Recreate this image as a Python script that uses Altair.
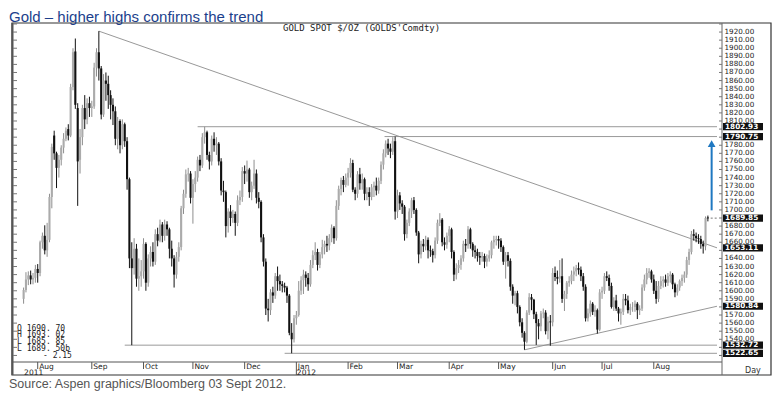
import altair as alt
import pandas as pd

start_date = "2011-07-22"
end_date = "2012-09-03"

opens = [
    1590, 1601, 1614, 1619, 1614, 1616,
    1627, 1622, 1660, 1668, 1650, 1663, 1716, 1792, 1770, 1752, 1762, 1777, 1788, 1800, 1792, 1852, 1896, 1826, 1762, 1790, 1826, 1812, 1832,
    1826, 1828, 1876, 1895, 1875, 1818, 1860, 1856, 1842, 1830, 1822, 1788, 1810, 1780, 1806, 1785, 1738, 1640, 1628, 1652, 1615, 1618,
    1624, 1658, 1610, 1640, 1648, 1636, 1670, 1662, 1682, 1668, 1682, 1676, 1652, 1640, 1620, 1642, 1654, 1702, 1720, 1744, 1745,
    1715, 1732, 1740, 1762, 1755, 1790, 1796, 1768, 1760, 1788, 1780, 1782, 1760, 1724, 1722, 1680, 1698, 1690, 1695, 1684, 1712, 1716,
    1748, 1745, 1750, 1722, 1730, 1745, 1715, 1710, 1666, 1636, 1578, 1576, 1598, 1594, 1618, 1612, 1608, 1606, 1604, 1594, 1548, 1540,
    1566, 1570, 1600, 1613, 1620, 1616, 1608, 1632, 1644, 1648, 1632, 1645, 1654, 1658, 1656, 1665, 1678, 1665, 1705, 1726, 1737, 1731,
    1740, 1746, 1758, 1725, 1720, 1744, 1733, 1738, 1720, 1722, 1716, 1728, 1730, 1724, 1736, 1756, 1770, 1782, 1776, 1772, 1785,
    1698, 1718, 1708, 1704, 1670, 1684, 1698, 1712, 1700, 1672, 1645, 1658, 1655, 1663, 1650, 1649, 1644, 1662, 1684, 1688, 1660, 1657,
    1668, 1676, 1648, 1620, 1628, 1632, 1640, 1658, 1656, 1676, 1658, 1650, 1648, 1643, 1641, 1643, 1636, 1640, 1644, 1660, 1663,
    1664, 1662, 1654, 1636, 1644, 1637, 1605, 1594, 1597, 1580, 1561, 1548, 1537, 1573, 1592, 1589, 1571, 1560, 1556, 1572, 1573, 1550, 1562,
    1561, 1622, 1617, 1615, 1618, 1590, 1596, 1610, 1612, 1620, 1624, 1628, 1626, 1618, 1605, 1566, 1572, 1584, 1574, 1576, 1552,
    1598, 1600, 1618, 1616, 1606, 1580, 1588, 1578, 1572, 1574, 1590, 1588, 1576, 1580, 1580, 1584, 1576, 1578, 1604, 1614, 1622, 1624,
    1614, 1600, 1590, 1606, 1612, 1614, 1610, 1618, 1620, 1608, 1598, 1604, 1612, 1616, 1620, 1638, 1648, 1670, 1668, 1665, 1664, 1658, 1655,
    1690.70,
]
highs = [
    1604, 1623, 1624, 1625, 1622, 1632,
    1633, 1662, 1672, 1681, 1684, 1720, 1782, 1798, 1772, 1768, 1780, 1795, 1802, 1806, 1856, 1900, 1912, 1832, 1800, 1830, 1842, 1838, 1840,
    1835, 1882, 1900, 1921.15, 1878, 1868, 1870, 1866, 1848, 1838, 1828, 1815, 1812, 1812, 1808, 1790, 1740, 1660, 1665, 1658, 1640, 1638,
    1665, 1660, 1645, 1655, 1660, 1676, 1678, 1688, 1685, 1688, 1686, 1678, 1662, 1644, 1648, 1660, 1705, 1725, 1750, 1752, 1748,
    1738, 1748, 1766, 1768, 1795, 1802.93, 1798, 1772, 1792, 1796, 1790, 1784, 1764, 1736, 1724, 1702, 1706, 1700, 1698, 1718, 1724, 1753,
    1755, 1761, 1752, 1735, 1762, 1750, 1722, 1712, 1670, 1640, 1590, 1602, 1605, 1622, 1630, 1620, 1612, 1610, 1606, 1596, 1560, 1570,
    1575, 1612, 1618, 1626, 1624, 1622, 1638, 1650, 1660, 1652, 1648, 1663, 1662, 1668, 1670, 1682, 1680, 1712, 1730, 1740, 1742, 1745,
    1752, 1764, 1762, 1728, 1748, 1752, 1745, 1740, 1728, 1728, 1732, 1735, 1740, 1740, 1760, 1775, 1786, 1788, 1782, 1790, 1790.75,
    1725, 1722, 1712, 1706, 1688, 1702, 1715, 1716, 1702, 1674, 1662, 1664, 1668, 1666, 1656, 1652, 1666, 1688, 1696, 1690, 1666, 1672,
    1680, 1678, 1650, 1634, 1638, 1644, 1662, 1664, 1680, 1678, 1660, 1656, 1652, 1648, 1648, 1646, 1645, 1650, 1662, 1668, 1668,
    1668, 1665, 1656, 1648, 1648, 1640, 1608, 1600, 1600, 1582, 1566, 1550, 1576, 1597, 1596, 1590, 1574, 1565, 1575, 1578, 1576, 1568, 1570,
    1628, 1630, 1625, 1638, 1640, 1600, 1612, 1618, 1625, 1630, 1632, 1635, 1630, 1622, 1608, 1578, 1588, 1586, 1582, 1578, 1602,
    1605, 1622, 1624, 1620, 1610, 1592, 1595, 1580, 1578, 1596, 1596, 1594, 1584, 1586, 1588, 1586, 1582, 1608, 1620, 1628, 1628, 1626,
    1620, 1612, 1612, 1618, 1618, 1620, 1622, 1624, 1622, 1610, 1608, 1614, 1620, 1624, 1642, 1652, 1674, 1676, 1672, 1670, 1668, 1662, 1692,
    1693.02,
]
lows = [
    1584, 1598, 1607, 1608, 1608, 1610,
    1610, 1618, 1652, 1645, 1642, 1660, 1702, 1762, 1727, 1740, 1755, 1770, 1785, 1786, 1790, 1848, 1825, 1705, 1745, 1780, 1800, 1806, 1815,
    1815, 1825, 1865, 1860, 1812, 1815, 1835, 1825, 1812, 1805, 1780, 1775, 1770, 1775, 1778, 1725, 1628, 1532.72, 1620, 1605, 1600, 1605,
    1615, 1600, 1605, 1630, 1630, 1632, 1655, 1660, 1660, 1662, 1668, 1640, 1630, 1604, 1615, 1636, 1650, 1695, 1715, 1735, 1708,
    1683, 1722, 1735, 1748, 1752, 1782, 1762, 1750, 1755, 1772, 1768, 1755, 1718, 1710, 1666, 1672, 1680, 1684, 1668, 1680, 1706, 1710,
    1732, 1735, 1715, 1712, 1726, 1708, 1702, 1660, 1630, 1570, 1562, 1570, 1585, 1590, 1600, 1600, 1598, 1598, 1585, 1545, 1522.65, 1536,
    1558, 1568, 1595, 1596, 1605, 1600, 1605, 1628, 1638, 1625, 1628, 1640, 1645, 1648, 1650, 1660, 1658, 1662, 1700, 1718, 1722, 1728,
    1730, 1740, 1722, 1712, 1715, 1725, 1725, 1712, 1712, 1705, 1712, 1716, 1718, 1720, 1732, 1750, 1765, 1768, 1764, 1768, 1688,
    1690, 1700, 1695, 1662, 1665, 1680, 1690, 1695, 1668, 1634, 1640, 1648, 1650, 1640, 1642, 1635, 1640, 1658, 1680, 1655, 1650, 1652,
    1660, 1640, 1612, 1614, 1622, 1626, 1636, 1648, 1652, 1652, 1642, 1640, 1636, 1632, 1636, 1628, 1630, 1636, 1640, 1652, 1656,
    1652, 1648, 1632, 1615, 1630, 1600, 1584, 1582, 1572, 1556, 1542, 1527, 1535, 1570, 1576, 1565, 1533, 1540, 1550, 1566, 1546, 1540, 1532,
    1556, 1612, 1608, 1610, 1585, 1575, 1590, 1605, 1608, 1612, 1618, 1620, 1612, 1600, 1562, 1562, 1568, 1570, 1568, 1547, 1550,
    1590, 1596, 1612, 1600, 1578, 1575, 1575, 1562, 1558, 1570, 1582, 1572, 1570, 1574, 1574, 1565, 1570, 1575, 1600, 1608, 1616, 1610,
    1596, 1584, 1586, 1602, 1604, 1605, 1606, 1610, 1602, 1592, 1594, 1600, 1606, 1610, 1616, 1632, 1645, 1662, 1660, 1658, 1652, 1646, 1650,
    1685.85,
]
closes = [
    1601, 1614, 1619, 1614, 1616, 1627,
    1622, 1660, 1668, 1650, 1663, 1716, 1778, 1770, 1752, 1762, 1777, 1788, 1798, 1792, 1852, 1895, 1830, 1760, 1790, 1826, 1812, 1832, 1826,
    1828, 1876, 1895, 1875, 1818, 1860, 1856, 1842, 1830, 1822, 1788, 1810, 1780, 1806, 1785, 1738, 1640, 1628, 1652, 1615, 1618, 1624,
    1658, 1610, 1640, 1648, 1636, 1670, 1662, 1682, 1668, 1682, 1676, 1652, 1640, 1620, 1642, 1654, 1702, 1720, 1744, 1745, 1715,
    1732, 1740, 1762, 1755, 1790, 1796, 1768, 1760, 1788, 1780, 1782, 1760, 1724, 1722, 1680, 1698, 1690, 1695, 1684, 1712, 1716, 1748,
    1745, 1750, 1722, 1730, 1745, 1715, 1710, 1666, 1636, 1578, 1576, 1598, 1594, 1618, 1612, 1608, 1606, 1604, 1594, 1548, 1540, 1566,
    1570, 1600, 1613, 1620, 1616, 1608, 1632, 1644, 1648, 1632, 1645, 1654, 1658, 1656, 1665, 1678, 1665, 1705, 1726, 1737, 1731, 1740,
    1746, 1758, 1725, 1720, 1744, 1733, 1738, 1720, 1722, 1716, 1728, 1730, 1724, 1736, 1756, 1770, 1782, 1776, 1772, 1785, 1698,
    1718, 1708, 1704, 1670, 1684, 1698, 1712, 1700, 1672, 1645, 1658, 1655, 1663, 1650, 1649, 1644, 1662, 1684, 1688, 1660, 1657, 1668,
    1676, 1648, 1620, 1628, 1632, 1640, 1658, 1656, 1676, 1658, 1650, 1648, 1643, 1641, 1643, 1636, 1640, 1644, 1660, 1663, 1664,
    1662, 1654, 1636, 1644, 1637, 1605, 1594, 1597, 1580, 1561, 1548, 1537, 1573, 1592, 1589, 1571, 1560, 1556, 1572, 1573, 1550, 1562, 1561,
    1622, 1617, 1615, 1618, 1590, 1596, 1610, 1612, 1620, 1624, 1628, 1626, 1618, 1605, 1566, 1572, 1584, 1574, 1576, 1552, 1598,
    1600, 1618, 1616, 1606, 1580, 1588, 1578, 1572, 1574, 1590, 1588, 1576, 1580, 1580, 1584, 1576, 1578, 1604, 1614, 1622, 1624, 1614,
    1600, 1590, 1606, 1612, 1614, 1610, 1618, 1620, 1608, 1598, 1604, 1612, 1616, 1620, 1638, 1648, 1670, 1668, 1665, 1664, 1658, 1655, 1690,
    1689.50,
]

# key levels shown as boxed labels on the price axis
level_values = [1802.93, 1790.75, 1689.85, 1653.11, 1580.84, 1532.72, 1522.65]
# horizontal support / resistance lines: level and bar index where they start
hline_levels = [1802.93, 1790.75, 1532.72, 1522.65]
hline_start = [74, 153.5, 43, 111]
# trend lines: (start bar, start price) -> (right edge, end price)
trend_x1 = [32, 213]
trend_y1 = [1921.15, 1526.97]
trend_y2 = [1653.11, 1580.84]
# price-axis tick labels (the ones squeezed by a boxed level sit slightly higher)
axis_values = [v for v in range(1540, 1930, 10) if v not in (1800, 1790, 1690, 1650, 1580)]
squeezed = [1810, 1660, 1540]
month_names = ["Aug", "Sep", "Oct", "Nov", "Dec", "Jan", "Feb", "Mar", "Apr", "May", "Jun", "Jul", "Aug"]
ohlc_lines = ["O 1690. 70", "H 1693. 02", "L 1685. 85", "L 1689. 50b", "- 2.15"]

dates = pd.bdate_range(start_date, end_date)
assert len(dates) == len(opens) == len(highs) == len(lows) == len(closes)
df = pd.DataFrame({"i": range(len(dates)), "date": dates, "open": opens,
                   "high": highs, "low": lows, "close": closes})

W, H = 710, 339
X_MIN, X_MAX = -2.81, 294.88
Y_MIN, Y_MAX = 1511.9, 1931.2
PX = H / (Y_MAX - Y_MIN)
xs = alt.Scale(domain=[X_MIN, X_MAX], nice=False, zero=False)
ys = alt.Scale(domain=[Y_MIN, Y_MAX], nice=False, zero=False)


def X(f):
    return alt.X(f, type="quantitative", scale=xs, axis=None)


def Y(f):
    return alt.Y(f, type="quantitative", scale=ys, axis=None)


one = pd.DataFrame({"a": [0]})
AXF = "DejaVu Sans"

# month starts
mdf = df.assign(per=df["date"].dt.to_period("M")).groupby("per", as_index=False)["i"].min()
mdf = mdf[(mdf["per"] >= pd.Period("2011-08")) & (mdf["per"] <= pd.Period("2012-08"))].reset_index(drop=True)
mdf["label"] = month_names
mdf = mdf[["i", "label"]]
years = pd.DataFrame({"i": [0, int(mdf.loc[5, "i"])], "label": ["2011", "2012"]})

frame = alt.Chart(one).mark_rect(fill=None, stroke="#333333", strokeWidth=1.2).encode(
    x=alt.value(0), x2=alt.value(759), y=alt.value(0), y2=alt.value(352))
left_edge = alt.Chart(one).mark_rule(color="#555555", strokeWidth=2).encode(
    x=alt.value(0.5), y=alt.value(0), y2=alt.value(352))
strip_line = alt.Chart(one).mark_rule(color="#555555", strokeWidth=1).encode(
    x=alt.value(0), x2=alt.value(W), y=alt.value(H))
axis_line = alt.Chart(one).mark_rule(color="#666666", strokeWidth=1).encode(
    x=alt.value(W), y=alt.value(0), y2=alt.value(352))

tick_df = pd.DataFrame({"v": list(range(1520, 1931, 10))})
right_ticks = alt.Chart(tick_df).mark_rule(color="#777777").encode(
    x=alt.value(W - 3), x2=alt.value(W), y=Y("v"))
left_ticks = alt.Chart(tick_df).mark_rule(color="#777777").encode(
    x=alt.value(1), x2=alt.value(5), y=Y("v"))

month_ticks = alt.Chart(mdf).transform_filter("datum.label != 'Jan'").mark_rule(color="#555555").encode(
    x=X("i"), y=alt.value(H), y2=alt.value(H + 7))
jan_tick = alt.Chart(mdf).transform_filter("datum.label == 'Jan'").mark_rule(color="#555555").encode(
    x=X("i"), y=alt.value(H), y2=alt.value(352))
month_text = alt.Chart(mdf).mark_text(align="left", baseline="alphabetic", dx=1.5, font=AXF,
                                      fontSize=7.5, color="#222222").encode(
    x=X("i"), y=alt.value(H + 6.5), text="label:N")
year_text = alt.Chart(years).mark_text(align="left", baseline="alphabetic", dx=0.5, font=AXF,
                                       fontSize=7.5, color="#222222").encode(
    x=X("i"), y=alt.value(H + 12.5), text="label:N")
day_text = alt.Chart(one).mark_text(align="left", baseline="middle", font=AXF, fontSize=8,
                                    color="#333333").encode(
    x=alt.value(733), y=alt.value(347.5), text=alt.value("Day"))

hl = pd.DataFrame({"v": hline_levels, "x1": hline_start, "x2": [X_MAX] * len(hline_levels)})
hlines = alt.Chart(hl).mark_rule(color="#9a9a9a", strokeWidth=1).encode(
    x=X("x1"), x2="x2", y=Y("v"))
tl = pd.DataFrame({"x1": trend_x1, "y1": trend_y1, "x2": [X_MAX, X_MAX], "y2": trend_y2})
tlines = alt.Chart(tl).mark_rule(color="#8c8c8c", strokeWidth=0.9).encode(
    x=X("x1"), x2="x2", y=Y("y1"), y2="y2")

up = "datum.close >= datum.open"
wicks = alt.Chart(df).mark_rule(strokeWidth=1).encode(
    x=X("i"), y=Y("low"), y2="high",
    color=alt.condition(up, alt.value("#8e8e8e"), alt.value("#111111")))
bodies = alt.Chart(df).mark_bar(size=2.1).encode(
    x=X("i"), y=Y("open"), y2="close",
    color=alt.condition(up, alt.value("#ababab"), alt.value("#111111")))

last_mark = alt.Chart(pd.DataFrame({"x1": [292.2], "x2": [X_MAX], "v": [1689.85]})).mark_rule(
    color="#777777", strokeDash=[2, 2]).encode(x=X("x1"), x2="x2", y=Y("v"))

arrow_df = pd.DataFrame({"x": [292.6], "y1": [1699.5], "y2": [1778.0], "tip": [1782.0]})
arrow_shaft = alt.Chart(arrow_df).mark_rule(color="#1f78c1", strokeWidth=2).encode(
    x=X("x"), y=Y("y1"), y2="y2")
arrow_head = alt.Chart(arrow_df).mark_point(shape="triangle-up", filled=True, size=60,
                                            color="#1f78c1", opacity=1).encode(x=X("x"), y=Y("tip"))

ax = pd.DataFrame({"v": axis_values})
ax["t"] = ax["v"].map(lambda v: f"{v:.2f}")
ax["dy"] = ax["v"].map(lambda v: -1.0 if v in squeezed else 0.0)
axis_text = alt.Chart(ax).mark_text(align="left", baseline="middle", font=AXF, fontSize=7.2,
                                    color="#222222").encode(
    x=alt.value(W + 2.5), y=Y("v"), yOffset=alt.YOffset("dy:Q", scale=None), text="t:N")

lv = pd.DataFrame({"v": level_values})
lv["top"] = lv["v"] + 3.6 / PX
lv["bot"] = lv["v"] - 3.6 / PX
lv["t"] = lv["v"].map(lambda v: f"{v:.2f}")
level_box = alt.Chart(lv).mark_rect(color="#111111").encode(
    x=alt.value(W + 1), x2=alt.value(W + 41), y=Y("top"), y2="bot")
level_text = alt.Chart(lv).mark_text(align="left", baseline="middle", font=AXF, fontSize=7.3,
                                     fontWeight="bold", color="#ffffff").encode(
    x=alt.value(W + 3), y=Y("v"), text="t:N")

ohlc = pd.DataFrame({"t": ohlc_lines, "yy": [307.5, 314.3, 321.1, 327.9, 334.7],
                     "xx": [5, 5, 5, 5, 31]})
ohlc_text = alt.Chart(ohlc).mark_text(align="left", baseline="alphabetic", font="DejaVu Sans Mono",
                                      fontSize=8, color="#222222").encode(
    x=alt.X("xx:Q", scale=None), y=alt.Y("yy:Q", scale=None), text="t:N")

header = alt.Chart(one).mark_text(align="left", baseline="alphabetic", font="DejaVu Sans Mono",
                                  fontSize=9, color="#222222").encode(
    x=alt.value(271), y=alt.value(7.5), text=alt.value("GOLD  SPOT  $/OZ  (GOLDS'Comdty)"))
title = alt.Chart(one).mark_text(align="left", baseline="alphabetic", font="Liberation Sans",
                                 fontSize=15, color="#1c3f8c").encode(
    x=alt.value(-3), y=alt.value(-1.5), text=alt.value("Gold \u2013 higher highs confirms the trend"))
source = alt.Chart(one).mark_text(align="left", baseline="alphabetic", font="Liberation Sans",
                                  fontSize=12.5, color="#555555").encode(
    x=alt.value(-3), y=alt.value(364.5), text=alt.value("Source: Aspen graphics/Bloomberg 03 Sept 2012."))

chart = alt.layer(
    frame, strip_line, axis_line, left_edge, left_ticks, right_ticks,
    month_ticks, jan_tick, month_text, year_text, day_text,
    hlines, tlines, wicks, bodies, last_mark, arrow_shaft, arrow_head,
    axis_text, level_box, level_text, ohlc_text, header, title, source,
).properties(
    width=W, height=H,
    padding={"left": 4, "top": 15, "right": 52, "bottom": 30},
    autosize=alt.AutoSizeParams(type="none"),
    background="white",
).configure_view(stroke=None)

chart.save("out.html", embed_options={"renderer": "svg", "actions": False})
